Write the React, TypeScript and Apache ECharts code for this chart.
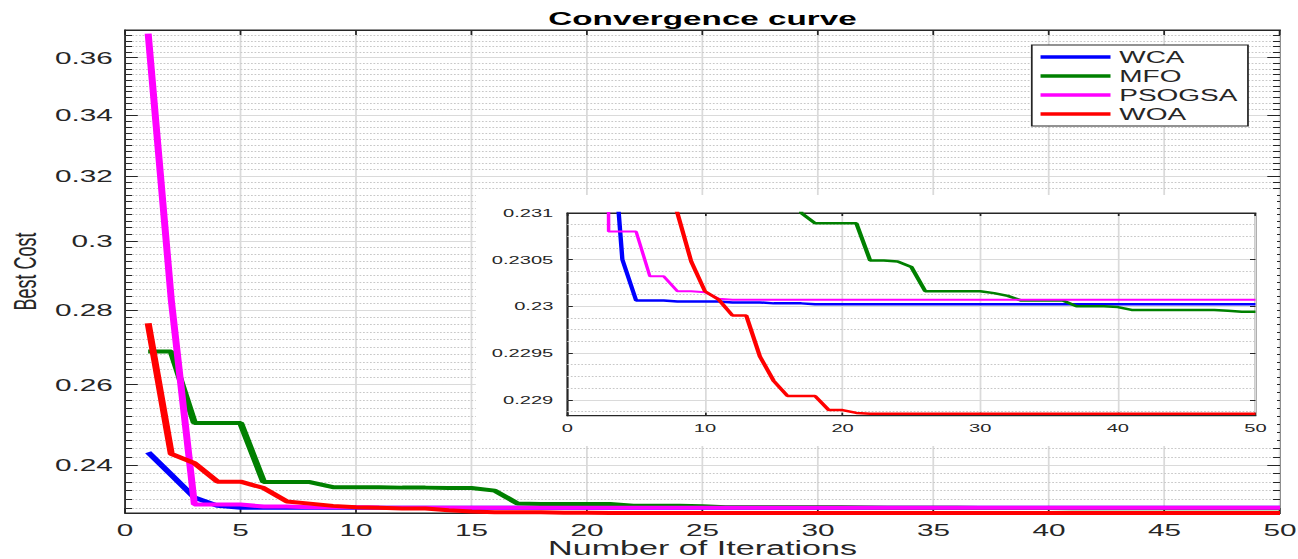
import React, { useEffect, useRef } from "react";
import * as echarts from "echarts";

// ---------- data ----------
const ITERATIONS = [
  1, 2, 3, 4, 5, 6, 7, 8, 9, 10, 11, 12, 13, 14, 15, 16, 17, 18, 19, 20, 21, 22, 23, 24, 25,
  26, 27, 28, 29, 30, 31, 32, 33, 34, 35, 36, 37, 38, 39, 40, 41, 42, 43, 44, 45, 46, 47, 48, 49, 50,
];

const WCA = [
  0.2431, 0.2377, 0.2324, 0.2305, 0.23006, 0.23006, 0.23006, 0.23005, 0.23005, 0.23005,
  0.23005, 0.23004, 0.23004, 0.23004, 0.23003, 0.23003, 0.23003, 0.23002, 0.23002, 0.23002,
  0.23002, 0.23002, 0.23002, 0.23002, 0.23002, 0.23002, 0.23002, 0.23002, 0.23002, 0.23002,
  0.23002, 0.23002, 0.23002, 0.23002, 0.23002, 0.23002, 0.23002, 0.23002, 0.23002, 0.23002,
  0.23002, 0.23002, 0.23002, 0.23002, 0.23002, 0.23002, 0.23002, 0.23002, 0.23002, 0.23002,
];

const MFO = [
  0.2687, 0.2687, 0.2503, 0.2503, 0.2503, 0.236, 0.236, 0.236, 0.2348, 0.2348,
  0.2348, 0.2347, 0.2347, 0.2346, 0.2346, 0.234, 0.231, 0.23089, 0.23089, 0.23089,
  0.23089, 0.23049, 0.23049, 0.23048, 0.23042, 0.23016, 0.23016, 0.23016, 0.23016, 0.23016,
  0.23014, 0.23011, 0.23006, 0.23006, 0.23006, 0.23006, 0.23, 0.23, 0.23, 0.22999,
  0.22996, 0.22996, 0.22996, 0.22996, 0.22996, 0.22996, 0.22996, 0.22995, 0.22994, 0.22994,
];

const PSOGSA = [
  0.3687, 0.2829, 0.2308, 0.2308, 0.2308, 0.23032, 0.23032, 0.23016, 0.23016, 0.23015,
  0.23008, 0.23007, 0.23007, 0.23007, 0.23007, 0.23007, 0.23007, 0.23007, 0.23007, 0.23007,
  0.23007, 0.23007, 0.23007, 0.23007, 0.23007, 0.23007, 0.23007, 0.23007, 0.23007, 0.23007,
  0.23007, 0.23007, 0.23007, 0.23007, 0.23007, 0.23007, 0.23007, 0.23007, 0.23007, 0.23007,
  0.23007, 0.23007, 0.23007, 0.23007, 0.23007, 0.23007, 0.23007, 0.23007, 0.23007, 0.23007,
];

const WOA = [
  0.2764, 0.2427, 0.2405, 0.2361, 0.2361, 0.2346, 0.2315, 0.231, 0.23048, 0.23016,
  0.23007, 0.2299, 0.2299, 0.22946, 0.2292, 0.22904, 0.22904, 0.22904, 0.22889, 0.22889,
  0.22886, 0.22885, 0.22885, 0.22885, 0.22885, 0.22885, 0.22885, 0.22885, 0.22885, 0.22885,
  0.22885, 0.22885, 0.22885, 0.22885, 0.22885, 0.22885, 0.22885, 0.22885, 0.22885, 0.22885,
  0.22885, 0.22885, 0.22885, 0.22885, 0.22885, 0.22885, 0.22885, 0.22885, 0.22885, 0.22885,
];

const SERIES_NAMES = ["WCA", "MFO", "PSOGSA", "WOA"];
const SERIES_VALUES = [WCA, MFO, PSOGSA, WOA];
const SERIES_COLORS = ["#0000ff", "#008000", "#ff00ff", "#ff0000"];

const MAIN_X_RANGE = [0, 50];
const MAIN_X_INTERVAL = 5;
const MAIN_Y_RANGE = [0.22885, 0.37];
const MAIN_Y_MAJOR = [0.24, 0.26, 0.28, 0.3, 0.32, 0.34, 0.36];
const MAIN_Y_MINOR_STEP = 0.002;

const INSET_X_RANGE = [0, 50];
const INSET_X_INTERVAL = 10;
const INSET_Y_RANGE = [0.22883, 0.231];
const INSET_Y_MAJOR = [0.229, 0.2295, 0.23, 0.2305, 0.231];
const INSET_Y_MINOR_STEP = 0.000125;

// ---------- layout ----------
const W = 742;
const H = 559;
const SX = 1298 / W;
const FONT = "'Liberation Sans', Arial, Helvetica, sans-serif";
const TXT = "#262626";
const GRID_MAJOR = "#dadada";
const GRID_MINOR = "#c8c8c8";

function minorSteps(lo: number, hi: number, step: number, majors: number[]) {
  const out: number[] = [];
  for (let k = Math.ceil(lo / step - 1e-9); k * step < hi - step * 0.1; k++) {
    const v = +(k * step).toFixed(7);
    if (v <= lo) continue;
    if (!majors.some((m) => Math.abs(m - v) < step / 10)) out.push(v);
  }
  return out;
}

function gridMarkLines(
  majors: number[],
  minors: number[],
  yMax: number,
  xMin: number,
  xMax: number,
  majorTick: number,
  minorTick: number,
  fontSize: number,
  labelDist: number,
  minorTicks: boolean
) {
  const data: any[] = [];
  minors.forEach((v) => {
    data.push({ yAxis: v, lineStyle: { color: GRID_MINOR, type: "dotted", width: 1 }, label: { show: false } });
  });
  majors.forEach((v) => {
    const onBorder = Math.abs(v - yMax) < 1e-9;
    data.push({
      yAxis: v,
      lineStyle: { color: onBorder ? TXT : GRID_MAJOR, type: "solid", width: 1 },
      label: {
        show: true,
        position: "start",
        formatter: String(v),
        distance: labelDist,
        color: TXT,
        fontSize,
        fontFamily: FONT,
      },
    });
  });
  const tick = (v: number, len: number) => {
    data.push([
      { coord: [xMin, v], lineStyle: { color: TXT, type: "solid", width: 1 }, label: { show: false } },
      { coord: [xMin + len, v] },
    ]);
    data.push([
      { coord: [xMax - len, v], lineStyle: { color: TXT, type: "solid", width: 1 }, label: { show: false } },
      { coord: [xMax, v] },
    ]);
  };
  majors.forEach((v) => tick(v, majorTick));
  if (minorTicks) minors.forEach((v) => tick(v, minorTick));
  return data;
}

function buildOption() {
  const mainMinors = minorSteps(MAIN_Y_RANGE[0], MAIN_Y_RANGE[1], MAIN_Y_MINOR_STEP, MAIN_Y_MAJOR);
  const insetMinors = minorSteps(INSET_Y_RANGE[0], INSET_Y_RANGE[1], INSET_Y_MINOR_STEP, INSET_Y_MAJOR);

  const mainSeries = SERIES_NAMES.map((name, i) => ({
    name,
    type: "line",
    xAxisIndex: 0,
    yAxisIndex: 0,
    data: ITERATIONS.map((it, k) => [it, SERIES_VALUES[i][k]]),
    symbol: "none",
    showSymbol: false,
    clip: false,
    z: i === 2 ? 6 : 3 + i,
    lineStyle: { color: SERIES_COLORS[i], width: 4 },
    itemStyle: { color: SERIES_COLORS[i] },
  }));

  const insetSeries = SERIES_NAMES.map((name, i) => ({
    name,
    type: "line",
    xAxisIndex: 2,
    yAxisIndex: 1,
    data: ITERATIONS.map((it, k) => [it, SERIES_VALUES[i][k]]),
    symbol: "none",
    showSymbol: false,
    clip: true,
    z: 20 + i,
    lineStyle: { color: SERIES_COLORS[i], width: i === 2 ? 2 : 2.5 },
    itemStyle: { color: SERIES_COLORS[i] },
  }));

  const markLineBase = {
    silent: true,
    symbol: ["none", "none"],
    animation: false,
    precision: 8,
    label: { show: false },
    emphasis: { disabled: true },
  };

  return {
    animation: false,
    backgroundColor: "#ffffff",
    textStyle: { fontFamily: FONT },
    title: {
      text: "Convergence curve",
      left: 401.6,
      top: 9,
      padding: 0,
      textAlign: "center",
      textStyle: { fontSize: 19, fontWeight: "bold", color: "#000", fontFamily: FONT },
    },
    legend: {
      data: SERIES_NAMES.map((n) => ({ name: n, icon: "rect" })),
      orient: "vertical",
      right: 28.6,
      top: 45,
      itemWidth: 40,
      itemHeight: 3.5,
      itemGap: 3,
      padding: [4, 6, 4, 5],
      borderColor: TXT,
      borderWidth: 1,
      backgroundColor: "#fff",
      selectedMode: false,
      textStyle: { fontSize: 16, color: TXT, fontFamily: FONT, lineHeight: 16 },
      z: 30,
    },
    grid: [
      {
        left: 71.5, right: 10.3, top: 30, bottom: 46, show: true, borderColor: TXT, borderWidth: 1,
        backgroundColor: "transparent", outerBoundsMode: "none", containLabel: false,
      },
      {
        left: 324.3, right: 24.3, top: 213, bottom: 143.3, show: true, borderColor: TXT, borderWidth: 1,
        backgroundColor: "#fff", z: 11, outerBoundsMode: "none", containLabel: false,
      },
    ],
    xAxis: [
      {
        type: "value",
        gridIndex: 0,
        min: MAIN_X_RANGE[0],
        max: MAIN_X_RANGE[1],
        interval: MAIN_X_INTERVAL,
        axisLine: { show: true, lineStyle: { color: TXT } },
        axisTick: { show: true, inside: true, length: 5, lineStyle: { color: TXT } },
        axisLabel: { fontSize: 17, color: TXT, margin: 9, fontFamily: FONT },
        splitLine: { show: true, lineStyle: { color: GRID_MAJOR, width: 1 } },
        name: "Number of Iterations",
        nameLocation: "middle",
        nameGap: 26,
        nameMoveOverlap: false,
        nameTextStyle: { fontSize: 19.5, color: TXT, fontFamily: FONT, verticalAlign: "top", lineHeight: 19 },
      },
      {
        type: "value",
        gridIndex: 0,
        position: "top",
        min: MAIN_X_RANGE[0],
        max: MAIN_X_RANGE[1],
        interval: MAIN_X_INTERVAL,
        axisLine: { show: true, lineStyle: { color: TXT } },
        axisTick: { show: true, inside: true, length: 5, lineStyle: { color: TXT } },
        axisLabel: { show: false },
        splitLine: { show: false },
      },
      {
        type: "value",
        gridIndex: 1,
        min: INSET_X_RANGE[0],
        max: INSET_X_RANGE[1],
        interval: INSET_X_INTERVAL,
        z: 12,
        axisLine: { show: true, lineStyle: { color: TXT } },
        axisTick: { show: true, inside: true, length: 3, lineStyle: { color: TXT } },
        axisLabel: { fontSize: 11.5, color: TXT, margin: 6, fontFamily: FONT },
        splitLine: { show: true, lineStyle: { color: GRID_MAJOR, width: 1 } },
      },
      {
        type: "value",
        gridIndex: 1,
        position: "top",
        min: INSET_X_RANGE[0],
        max: INSET_X_RANGE[1],
        interval: INSET_X_INTERVAL,
        z: 12,
        axisLine: { show: true, lineStyle: { color: TXT } },
        axisTick: { show: true, inside: true, length: 3, lineStyle: { color: TXT } },
        axisLabel: { show: false },
        splitLine: { show: false },
      },
    ],
    yAxis: [
      {
        type: "log",
        gridIndex: 0,
        min: MAIN_Y_RANGE[0],
        max: MAIN_Y_RANGE[1],
        axisLine: { show: true, lineStyle: { color: TXT } },
        axisTick: { show: false },
        axisLabel: { show: false },
        splitLine: { show: false },
        minorTick: { show: false },
        name: "Best Cost",
        nameLocation: "middle",
        nameGap: 48,
        nameMoveOverlap: false,
        nameTextStyle: { fontSize: 18, color: TXT, fontFamily: FONT },
      },
      {
        type: "log",
        gridIndex: 1,
        min: INSET_Y_RANGE[0],
        max: INSET_Y_RANGE[1],
        z: 12,
        axisLine: { show: true, lineStyle: { color: TXT } },
        axisTick: { show: false },
        axisLabel: { show: false },
        splitLine: { show: false },
      },
    ],
    graphic: [
      {
        type: "rect",
        left: 272,
        top: 195,
        shape: { width: 458, height: 251 },
        style: { fill: "#ffffff" },
        z: 10,
        silent: true,
      },
    ],
    series: [
      {
        name: "mainGrid",
        type: "line",
        xAxisIndex: 0,
        yAxisIndex: 0,
        data: [],
        silent: true,
        z: 1,
        markLine: {
          ...markLineBase,
          z: 1,
          data: gridMarkLines(MAIN_Y_MAJOR, mainMinors, MAIN_Y_RANGE[1], MAIN_X_RANGE[0], MAIN_X_RANGE[1], 0.55, 0.3, 17, 7, true),
        },
      },
      ...mainSeries,
      {
        name: "insetGrid",
        type: "line",
        xAxisIndex: 2,
        yAxisIndex: 1,
        data: [],
        silent: true,
        z: 16,
        markLine: {
          ...markLineBase,
          z: 16,
          data: gridMarkLines(INSET_Y_MAJOR, insetMinors, INSET_Y_RANGE[1], INSET_X_RANGE[0], INSET_X_RANGE[1], 0.4, 0.25, 11.5, 8, false),
        },
      },
      ...insetSeries,
    ],
  };
}

export default function App() {
  const ref = useRef<HTMLDivElement>(null);
  useEffect(() => {
    if (!ref.current) return;
    const chart = echarts.init(ref.current, undefined, { renderer: "svg" });
    chart.setOption(buildOption() as any);
    return () => chart.dispose();
  }, []);
  return (
    <div
      ref={ref}
      style={{
        position: "fixed",
        left: 0,
        top: 0,
        width: W,
        height: H,
        transform: `scaleX(${SX})`,
        transformOrigin: "0 0",
        background: "#fff",
      }}
    />
  );
}
